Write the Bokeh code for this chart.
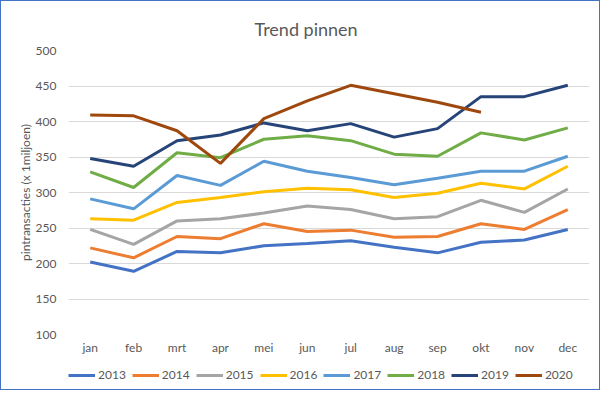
from bokeh.plotting import figure
from bokeh.models import FactorRange, FixedTicker, Legend, LegendItem, Range1d
from bokeh.layouts import column
from bokeh.embed import file_html
from bokeh.resources import INLINE

months = ["jan", "feb", "mrt", "apr", "mei", "jun", "jul", "aug", "sep", "okt", "nov", "dec"]
y2013 = [202, 189, 217, 215, 225, 228, 232, 223, 215, 230, 233, 248]
y2014 = [222, 208, 238, 235, 256, 245, 247, 237, 238, 256, 248, 276]
y2015 = [248, 227, 260, 263, 271, 281, 276, 263, 266, 289, 272, 305]
y2016 = [263, 261, 286, 293, 301, 306, 304, 293, 299, 313, 305, 337]
y2017 = [291, 277, 324, 310, 344, 330, 321, 311, 320, 330, 330, 351]
y2018 = [329, 307, 356, 349, 375, 380, 373, 354, 351, 384, 374, 391]
y2019 = [348, 337, 373, 381, 398, 387, 397, 378, 390, 435, 435, 451]
y2020 = [409, 408, 387, 341, 404, 429, 451, 439, 427, 413]
years = ["2013", "2014", "2015", "2016", "2017", "2018", "2019", "2020"]
series = [y2013, y2014, y2015, y2016, y2017, y2018, y2019, y2020]
colors = ["#4472C4", "#ED7D31", "#A5A5A5", "#FFC000", "#5B9BD5", "#70AD47", "#264478", "#9E480E"]
yticks = [100, 150, 200, 250, 300, 350, 400, 450, 500]

FONT = "Lato"
GREY = "#595959"
W = 598

p = figure(width=W, height=358, output_backend="svg", toolbar_location=None,
           x_range=FactorRange(*months, range_padding=0), y_range=Range1d(100, 500),
           min_border_left=67, min_border_right=10, min_border_top=49, min_border_bottom=25)

p.title.text = "Trend pinnen"
p.title.align = "left"
p.title.offset = 186
p.title.text_font = FONT
p.title.text_font_style = "normal"
p.title.text_font_size = "18px"
p.title.text_color = GREY
p.title.standoff = 21

for yr, vals, c in zip(years, series, colors):
    p.line(months[:len(vals)], vals, line_color=c, line_width=3)

p.yaxis.ticker = FixedTicker(ticks=yticks)
p.yaxis.axis_label = "pintransacties (x 1miljoen)"
for ax in (p.xaxis[0], p.yaxis[0]):
    ax.axis_line_color = None
    ax.major_tick_line_color = None
    ax.minor_tick_line_color = None
    ax.major_tick_out = 0
    ax.major_tick_in = 0
    ax.minor_tick_out = 0
    ax.major_label_text_font = FONT
    ax.major_label_text_font_size = "12px"
    ax.major_label_text_color = GREY
ax = p.yaxis[0]
ax.axis_label_text_font = FONT
ax.axis_label_text_font_style = "normal"
ax.axis_label_text_font_size = "12px"
ax.axis_label_text_color = GREY
ax.axis_label_standoff = 0
ax.major_label_standoff = 12
p.xaxis[0].major_label_standoff = 5

p.xgrid.grid_line_color = None
p.ygrid.grid_line_color = "#D9D9D9"
p.ygrid.grid_line_width = 1
p.outline_line_color = None

# legend strip below the chart (same series, drawn outside its visible y range)
p2 = figure(width=W, height=30, output_backend="svg", toolbar_location=None,
            x_range=p.x_range, y_range=Range1d(1000, 1001),
            x_axis_location=None, y_axis_location=None,
            min_border_left=0, min_border_right=0, min_border_top=0, min_border_bottom=0)
p2.grid.grid_line_color = None
p2.outline_line_color = None
items = []
for yr, vals, c in zip(years, series, colors):
    r = p2.line(months[:len(vals)], vals, line_color=c, line_width=3)
    items.append(LegendItem(label=yr, renderers=[r]))
legend = Legend(items=items, orientation="horizontal", location=(0, 7),
                label_text_font=FONT, label_text_font_size="12px", label_text_color=GREY,
                glyph_width=27, glyph_height=10, label_standoff=3, spacing=6,
                border_line_color=None, background_fill_alpha=0, padding=2, margin=0)
p2.add_layout(legend)

layout = column(p, p2, spacing=0, styles={"border": "1px solid #4472C4"})
open("out.html", "w").write(file_html(layout, INLINE))
